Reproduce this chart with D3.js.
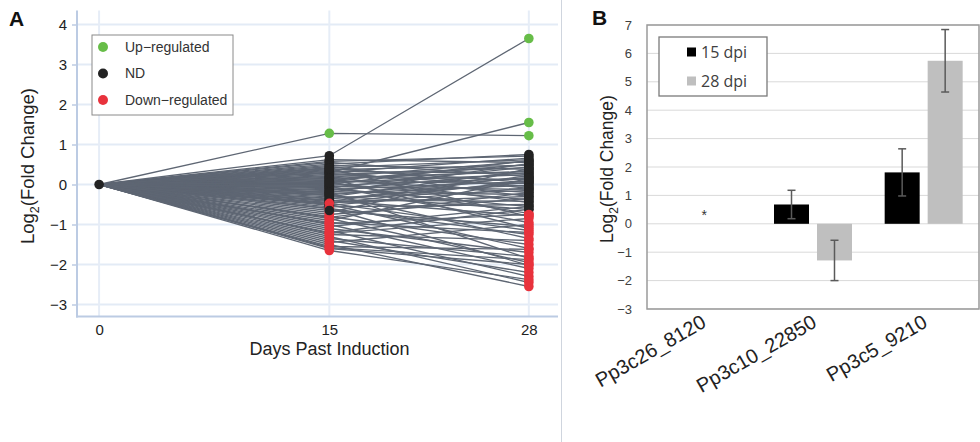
<!DOCTYPE html>
<html>
<head>
<meta charset="utf-8">
<script src="https://cdn.jsdelivr.net/npm/d3@7"></script>
<style>
  body { margin: 0; background: #fff; }
  svg { display: block; font-family: "Liberation Sans", Arial, sans-serif; }
</style>
</head>
<body>
<div id="chartContainer"></div>
<script>
// ---- panel A: log2 fold change per gene at 15 and 28 days ----
const days = [0, 15, 28];
const fc15 = [0.62, 0.58, 0.55, 0.51, 0.48, 0.45, 0.42, 0.40, 0.37, 0.35, 0.33, 0.30, 0.28, 0.25, 0.22,
  0.20, 0.18, 0.15, 0.12, 0.10, 0.08, 0.05, 0.03, 0.00, -0.02, -0.05, -0.08, -0.10, -0.13, -0.15,
  -0.18, -0.20, -0.23, -0.26, -0.28, -0.31, -0.34, -0.36, -0.39, -0.42, -0.45, -0.48, -0.52, -0.56,
  1.28, 0.72, 0.30,
  0.40, 0.15, -0.05, -0.25, -0.40, -0.50, 0.05, -0.60, -0.20,
  -0.75, -0.90, -1.05, -0.82, -1.20, -0.70,
  -0.80, -0.85, -0.95, -1.00, -1.10, -1.15, -1.25, -1.30, -1.35, -1.40, -1.45, -1.50, -1.55, -1.60,
  -1.65, -1.58, -1.22, -0.98, -0.60, -0.47, -0.65];
const fc28 = [0.55, 0.71, 0.20, 0.75, 0.38, -0.10, 0.62, 0.05, 0.48, -0.30, 0.28, 0.66, -0.05, 0.42, 0.12,
  -0.45, 0.58, 0.33, -0.20, 0.50, 0.02, 0.25, -0.38, 0.60, 0.15, -0.12, 0.44, -0.55, 0.08, 0.30,
  -0.25, 0.52, -0.02, 0.18, -0.62, 0.36, -0.15, 0.05, -0.42, 0.22, -0.30, 0.10, -0.08, -0.50,
  1.22, 3.65, 1.55,
  -0.80, -1.10, -0.95, -1.35, -0.78, -1.60, -0.72, -1.25, -1.85,
  -0.35, 0.15, -0.55, -0.20, -0.62, 0.40,
  -1.50, -1.95, -1.20, -2.10, -1.70, -2.30, -1.40, -2.45, -1.80, -2.20, -1.00, -2.55, -1.62, -2.00,
  -2.38, -1.88, -0.85, -0.75, -2.02, -1.15, -1.05];
// u = up-regulated, n = ND, d = down-regulated
const st15 = "nnnnnnnnnnnnnnnnnnnnnnnnnnnnnnnnnnnnnnnnnnnn" + "unn" + "nnnnnnnnn" + "dddddd" + "dddddddddddddddddddd" + "n";
const st28 = "nnnnnnnnnnnnnnnnnnnnnnnnnnnnnnnnnnnnnnnnnnnn" + "uuu" + "ddddddddd" + "nnnnnn" + "dddddddddddddddddddd" + "d";
const legendA = [["u", "Up\u2212regulated"], ["n", "ND"], ["d", "Down\u2212regulated"]];
const yTicksA = [-3, -2, -1, 0, 1, 2, 3, 4];

// ---- panel B: qPCR bars ----
const genes = ["Pp3c26_8120", "Pp3c10_22850", "Pp3c5_9210"];
const series = ["15 dpi", "28 dpi"];
const dpi15 = [null, 0.68, 1.81];
const err15 = [null, 0.50, 0.83];
const dpi28 = [null, -1.29, 5.74];
const err28 = [null, 0.71, 1.10];
const notes = ["*", "", ""];
const yTicksB = [-3, -2, -1, 0, 1, 2, 3, 4, 5, 6, 7];

const width = 980, height = 442;
const statusColor = { u: "#67bd48", n: "#232323", d: "#e8323c" };
const barColor = { "15 dpi": "#000000", "28 dpi": "#bfbfbf" };

const svg = d3.select("#chartContainer").append("svg")
  .attr("width", width).attr("height", height);

// ================= panel A =================
const A = { left: 77, right: 558, top: 10.5, bottom: 316.5 };
const xA = d3.scaleLinear().domain([-1.44, 29.9]).range([A.left, A.right]);
const yA = d3.scaleLinear().domain([-3.3, 4.35]).range([A.bottom, A.top]);

const gA = svg.append("g").attr("class", "panel-a");

gA.append("g").selectAll("line").data(yTicksA).enter().append("line")
  .attr("x1", A.left).attr("x2", A.right)
  .attr("y1", d => yA(d)).attr("y2", d => yA(d))
  .attr("stroke", "#e3ebf6").attr("stroke-width", 2);
gA.append("g").selectAll("line").data(days).enter().append("line")
  .attr("x1", d => xA(d)).attr("x2", d => xA(d))
  .attr("y1", A.top).attr("y2", A.bottom)
  .attr("stroke", "#e6edf7").attr("stroke-width", 2);

const axLeft = gA.append("g")
  .attr("transform", `translate(${A.left},0)`)
  .call(d3.axisLeft(yA).tickValues(yTicksA).tickSize(5).tickPadding(5));
axLeft.select(".domain").remove();
axLeft.selectAll(".tick line").attr("stroke", "#bccbe3").attr("stroke-width", 1.5);
axLeft.selectAll(".tick text").attr("font-size", 15).attr("fill", "#222")
  .attr("font-family", "Liberation Sans, Arial, sans-serif");

const axBottom = gA.append("g")
  .attr("transform", `translate(0,${A.bottom})`)
  .call(d3.axisBottom(xA).tickValues(days).tickSize(0).tickPadding(8));
axBottom.select(".domain").remove();
axBottom.selectAll(".tick text").attr("font-size", 15).attr("fill", "#222")
  .attr("font-family", "Liberation Sans, Arial, sans-serif");

gA.append("line").attr("x1", A.left).attr("x2", A.left)
  .attr("y1", A.top).attr("y2", A.bottom + 1)
  .attr("stroke", "#bccbe3").attr("stroke-width", 2);
gA.append("line").attr("x1", A.left - 1).attr("x2", A.right)
  .attr("y1", A.bottom).attr("y2", A.bottom)
  .attr("stroke", "#bccbe3").attr("stroke-width", 2);

const genesA = fc15.map((v, i) => ({
  pts: [[0, 0, "n"], [15, v, st15[i]], [28, fc28[i], st28[i]]]
}));

const line = d3.line().x(d => xA(d[0])).y(d => yA(d[1]));
gA.append("g").selectAll("path").data(genesA).enter().append("path")
  .attr("d", d => line(d.pts))
  .attr("fill", "none").attr("stroke", "#5e6673").attr("stroke-width", 1.3);

const dots = gA.append("g");
genesA.forEach(g => {
  dots.selectAll(null).data(g.pts.slice(1)).enter().append("circle")
    .attr("cx", d => xA(d[0])).attr("cy", d => yA(d[1])).attr("r", 4.8)
    .attr("fill", d => statusColor[d[2]]);
});
dots.append("circle").attr("cx", xA(0)).attr("cy", yA(0)).attr("r", 4.8)
  .attr("fill", statusColor.n);

// legend A
const legA = gA.append("g");
legA.append("rect").attr("x", 92).attr("y", 35).attr("width", 141).attr("height", 80)
  .attr("fill", "#fff").attr("stroke", "#8a8a8a").attr("stroke-width", 1);
legA.selectAll("g").data(legendA).enter().append("g")
  .attr("transform", (d, i) => `translate(103,${47 + i * 26.5})`)
  .each(function(d) {
    const s = d3.select(this);
    s.append("circle").attr("r", 5).attr("fill", statusColor[d[0]]);
    s.append("text").attr("x", 22).attr("dy", "0.35em").attr("font-size", 14)
      .attr("fill", "#333").text(d[1]);
  });

gA.append("text").attr("x", (A.left + A.right) / 2 + 12).attr("y", 355)
  .attr("text-anchor", "middle").attr("font-size", 18).attr("fill", "#222")
  .text("Days Past Induction");
const tA = gA.append("text").attr("transform", "translate(34,166) rotate(-90)")
  .attr("text-anchor", "middle").attr("font-size", 18.5).attr("fill", "#222");
tA.append("tspan").text("Log");
tA.append("tspan").attr("font-size", 12.5).attr("dy", 5).text("2");
tA.append("tspan").attr("dy", -5).text("(Fold Change)");

gA.append("text").attr("x", 9).attr("y", 26).attr("font-size", 21)
  .attr("font-weight", "bold").attr("fill", "#111").text("A");

// divider
svg.append("line").attr("x1", 561.5).attr("x2", 561.5).attr("y1", 0).attr("y2", height)
  .attr("stroke", "#cfd5de").attr("stroke-width", 1);

// ================= panel B =================
const B = { left: 647, right: 979, top: 25, bottom: 309 };
const xB = d3.scaleBand().domain(genes).range([B.left, B.right]).padding(0);
const xSub = d3.scaleBand().domain(series).range([0, xB.bandwidth()])
  .paddingInner(0.186).paddingOuter(0.38);
const yB = d3.scaleLinear().domain([-3, 7]).range([B.bottom, B.top]);

const gB = svg.append("g").attr("class", "panel-b");

gB.append("g").selectAll("line").data(yTicksB).enter().append("line")
  .attr("x1", B.left).attr("x2", B.right)
  .attr("y1", d => yB(d)).attr("y2", d => yB(d))
  .attr("stroke", "#d9d9d9").attr("stroke-width", 1);

const axB = gB.append("g").attr("transform", `translate(${B.left},0)`)
  .call(d3.axisLeft(yB).tickValues(yTicksB).tickSize(0).tickPadding(15));
axB.select(".domain").remove();
axB.selectAll(".tick text").attr("font-size", 13).attr("fill", "#404040")
  .attr("font-family", "Liberation Sans, Arial, sans-serif");

const barData = [];
genes.forEach((g, i) => {
  barData.push({ gene: g, s: "15 dpi", v: dpi15[i], e: err15[i] });
  barData.push({ gene: g, s: "28 dpi", v: dpi28[i], e: err28[i] });
});
const bars = barData.filter(d => d.v !== null);

gB.append("g").selectAll("rect").data(bars).enter().append("rect")
  .attr("x", d => xB(d.gene) + xSub(d.s))
  .attr("width", xSub.bandwidth())
  .attr("y", d => yB(Math.max(0, d.v)))
  .attr("height", d => Math.abs(yB(d.v) - yB(0)))
  .attr("fill", d => barColor[d.s]);

const eb = gB.append("g").attr("stroke", "#5a5a5a").attr("stroke-width", 1.5);
bars.forEach(d => {
  const cx = xB(d.gene) + xSub(d.s) + xSub.bandwidth() / 2;
  eb.append("line").attr("x1", cx).attr("x2", cx).attr("y1", yB(d.v + d.e)).attr("y2", yB(d.v - d.e));
  [d.v + d.e, d.v - d.e].forEach(v => {
    eb.append("line").attr("x1", cx - 4).attr("x2", cx + 4).attr("y1", yB(v)).attr("y2", yB(v));
  });
});

gB.append("g").selectAll("text").data(genes).enter().append("text")
  .attr("x", (d, i) => xB(d) + xB.bandwidth() / 2 + 2)
  .attr("y", yB(0.12))
  .attr("text-anchor", "middle").attr("font-size", 14).attr("fill", "#333")
  .text((d, i) => notes[i]);

gB.append("rect").attr("x", B.left).attr("y", B.top)
  .attr("width", B.right - B.left).attr("height", B.bottom - B.top)
  .attr("fill", "none").attr("stroke", "#9a9a9a").attr("stroke-width", 1.5);

// category labels
gB.append("g").selectAll("text").data(genes).enter().append("text")
  .attr("transform", d => `translate(${xB(d) + xB.bandwidth() / 2 + 5},326) rotate(-30)`)
  .attr("text-anchor", "end").attr("font-size", 20).attr("fill", "#222")
  .text(d => d);

// legend B
const legB = gB.append("g");
legB.append("rect").attr("x", 659).attr("y", 37).attr("width", 108).attr("height", 59)
  .attr("fill", "#fff").attr("stroke", "#7a7a7a").attr("stroke-width", 1.3);
legB.selectAll("g").data(series).enter().append("g")
  .attr("transform", (d, i) => `translate(687,${52 + i * 29})`)
  .each(function(d) {
    const s = d3.select(this);
    s.append("rect").attr("x", 0).attr("y", -4.5).attr("width", 9).attr("height", 9)
      .attr("fill", barColor[d]);
    s.append("text").attr("x", 14).attr("dy", "0.36em").attr("font-size", 16)
      .attr("font-family", "Open Sans, sans-serif").attr("fill", "#404040").text(d);
  });

const tB = gB.append("text").attr("transform", "translate(613,169) rotate(-90)")
  .attr("text-anchor", "middle").attr("font-size", 17.5).attr("fill", "#222");
tB.append("tspan").text("Log");
tB.append("tspan").attr("font-size", 12).attr("dy", 5).text("2");
tB.append("tspan").attr("dy", -5).text("(Fold Change)");

gB.append("text").attr("x", 592).attr("y", 25).attr("font-size", 21)
  .attr("font-weight", "bold").attr("fill", "#111").text("B");
</script>
</body>
</html>
